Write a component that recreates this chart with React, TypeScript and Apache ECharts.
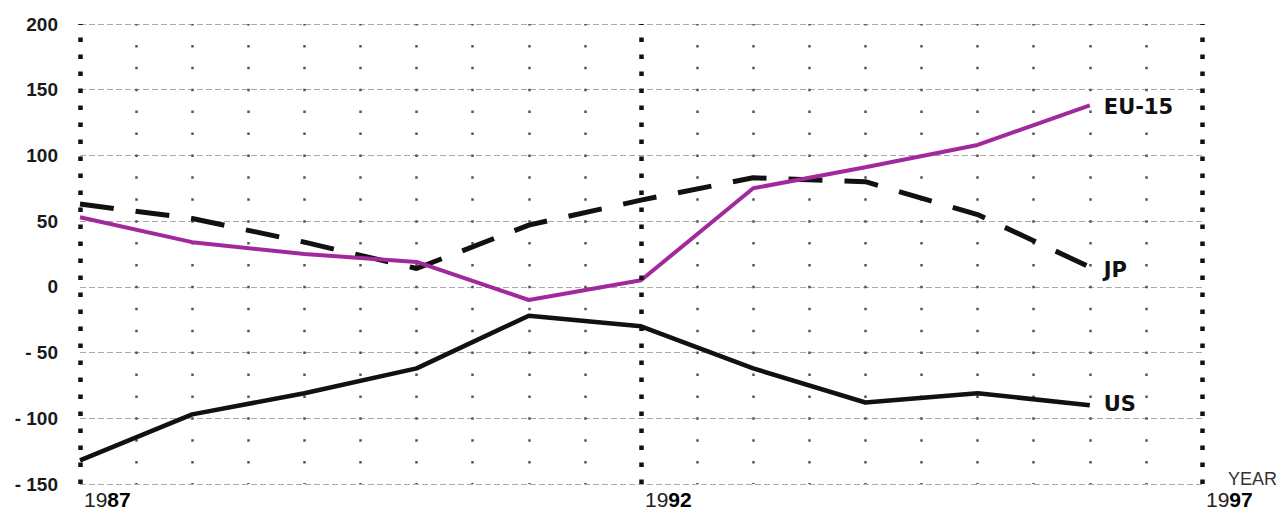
import React, { useEffect, useRef } from "react";
import * as echarts from "echarts";

const years = [1987, 1988, 1989, 1990, 1991, 1992, 1993, 1994, 1995, 1996];
const euValues = [53, 34, 25, 19, -10, 5, 75, 91, 108, 138];
const jpValues = [63, 52, 34, 14, 47, 66, 83, 80, 55, 15];
const usValues = [-132, -97, -81, -62, -22, -30, -62, -88, -81, -90];
const yearTicks = [1987, 1992, 1997];
const seriesNames = ["US", "JP", "EU-15"];

const pairs = (vals: number[]) => years.map((y, i) => [y, vals[i]]);

export default function App() {
  const ref = useRef<HTMLDivElement>(null);
  useEffect(() => {
    if (!ref.current) return;
    const chart = echarts.init(ref.current, null, { renderer: "svg" });
    const endLabel = (txt: string, dy: number) => ({
      show: true,
      formatter: txt,
      distance: 14,
      offset: [0, dy],
      fontFamily: "DejaVu Sans",
      fontWeight: "bold",
      fontSize: 21,
      color: "#111",
    });
    const minorColors = ["transparent", "#555", "#555", "#555", "#555", "#555", "#555", "#555", "#555", "#555"];
    chart.setOption({
      animation: false,
      backgroundColor: "#fff",
      grid: { left: 80, right: 75, top: 24, bottom: 28, outerBoundsMode: "none", containLabel: false },
      xAxis: {
        type: "value",
        min: 1987,
        max: 1997,
        interval: 0.5,
        axisLine: { show: false },
        axisTick: { show: false },
        axisLabel: {
          margin: 5,
          align: "left",
          padding: [0, 0, 0, 4],
          fontWeight: "normal",
          lineHeight: 21,
          formatter: (v: number) => {
            if (yearTicks.indexOf(v) < 0) return "";
            const s = String(v);
            return "{a|" + s.slice(0, 2) + "}{b|" + s.slice(2) + "}";
          },
          rich: {
            a: { fontFamily: "Liberation Sans", fontSize: 21, lineHeight: 21, fontWeight: "normal", color: "#222" },
            b: { fontFamily: "Liberation Sans", fontSize: 21, lineHeight: 21, fontWeight: "bold", color: "#000" },
          },
        },
        splitLine: {
          show: true,
          lineStyle: { color: minorColors, width: 2.5, type: [2.5, 19.405], dashOffset: 1.25 },
        },
      },
      yAxis: {
        type: "value",
        min: -150,
        max: 200,
        interval: 50,
        axisLine: { show: false },
        axisTick: { show: false },
        axisLabel: {
          margin: 22,
          fontFamily: "Liberation Sans",
          fontSize: 19,
          fontWeight: "bold",
          color: "#1a1a1a",
          formatter: (v: number) => (v < 0 ? "- " + Math.abs(v) : String(v)),
        },
        splitLine: { show: true, lineStyle: { color: "#aaa", width: 1, type: [6, 3] } },
      },
      graphic: [
        {
          type: "text",
          left: 1228,
          top: 470,
          style: { text: "YEAR", fontFamily: "Liberation Sans", fontSize: 18, fill: "#333" },
        },
      ],
      series: [
        {
          name: seriesNames[0],
          type: "line",
          data: pairs(usValues),
          showSymbol: false,
          lineStyle: { color: "#111", width: 4.5 },
          endLabel: endLabel(seriesNames[0], -1),
          markLine: {
            silent: true,
            symbol: "none",
            label: { show: false },
            lineStyle: { color: "#111", width: 4.5, type: [4.5, 12.5] },
            data: yearTicks.map((y) => ({ xAxis: y })),
          },
        },
        {
          name: seriesNames[1],
          type: "line",
          data: pairs(jpValues),
          showSymbol: false,
          lineStyle: { color: "#111", width: 5, type: [34, 22] },
          endLabel: endLabel(seriesNames[1], 3),
        },
        {
          name: seriesNames[2],
          type: "line",
          data: pairs(euValues),
          showSymbol: false,
          lineStyle: { color: "#a2299b", width: 4 },
          endLabel: endLabel(seriesNames[2], 2),
        },
      ],
    });
    return () => chart.dispose();
  }, []);
  return (
    <div
      ref={ref}
      style={{ position: "fixed", left: 0, top: 0, width: 1277, height: 512, background: "#fff" }}
    />
  );
}
